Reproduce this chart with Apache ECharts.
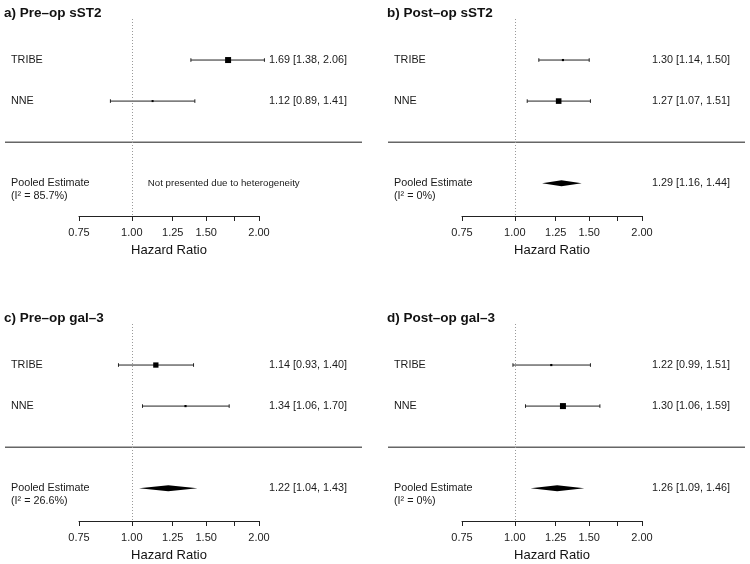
<!DOCTYPE html>
<html>
<head>
<meta charset="utf-8">
<script src="https://cdn.jsdelivr.net/npm/echarts@6/dist/echarts.min.js"></script>
<style>
html,body{margin:0;padding:0;background:#fff;}
#c{width:750px;height:564px;}
</style>
</head>
<body>
<div id="c"></div>
<script>
// ---- data ----
const panelTitles = ['a) Pre\u2013op sST2', 'b) Post\u2013op sST2', 'c) Pre\u2013op gal\u20133', 'd) Post\u2013op gal\u20133'];
const studies = ['TRIBE', 'NNE'];
const estA = [1.69, 1.12], lowA = [1.38, 0.89], highA = [2.06, 1.41], wA = [0.75, 0.25];
const estB = [1.30, 1.27], lowB = [1.14, 1.07], highB = [1.50, 1.51], wB = [0.27, 0.70];
const estC = [1.14, 1.34], lowC = [0.93, 1.06], highC = [1.40, 1.70], wC = [0.66, 0.27];
const estD = [1.22, 1.30], lowD = [0.99, 1.06], highD = [1.51, 1.59], wD = [0.27, 0.75];
const pooledEst = [null, 1.29, 1.22, 1.26];
const pooledLow = [null, 1.16, 1.04, 1.09];
const pooledHigh = [null, 1.44, 1.43, 1.46];
const i2Text = ['85.7%', '0%', '26.6%', '0%'];
const notPresentedText = 'Not presented due to heterogeneity';
const tickVals = [0.75, 1.00, 1.25, 1.50, 1.75, 2.00];
const tickLabelVals = [0.75, 1.00, 1.25, 1.50, 2.00];
const axisTitle = 'Hazard Ratio';

// ---- layout ----
const FONT = 'Helvetica, Arial, "Liberation Sans", sans-serif';
const ests = [estA, estB, estC, estD], lows = [lowA, lowB, lowC, lowD], highs = [highA, highB, highC, highD], ws = [wA, wB, wC, wD];
const gridLeft = [79, 462, 79, 462];
const gridTop = [19, 19, 324, 324];
const L = Math.log;
const f2 = v => v.toFixed(2);

const option = {
  animation: false,
  backgroundColor: '#fff',
  title: panelTitles.map((t, p) => ({
    text: t, left: gridLeft[p] - 75, top: gridTop[p] - 13, padding: 0,
    textStyle: {fontSize: 13.5, fontWeight: 'bold', color: '#111', fontFamily: FONT}
  })),
  grid: gridLeft.map((l, p) => ({left: l, top: gridTop[p], width: 180, height: 197})),
  xAxis: gridLeft.map((l, p) => ({
    gridIndex: p, type: 'value', min: L(0.75), max: L(2.0),
    splitLine: {show: false},
    axisLine: {show: true, onZero: false, lineStyle: {color: '#222', width: 1}},
    axisTick: {show: true, inside: false, length: 5, lineStyle: {color: '#222'}, customValues: tickVals.map(L)},
    axisLabel: {show: true, margin: 11, fontSize: 11, color: '#222', fontFamily: FONT,
      customValues: tickLabelVals.map(L), formatter: v => Math.exp(v).toFixed(2)},
    name: axisTitle, nameLocation: 'middle', nameGap: 28,
    nameTextStyle: {fontSize: 13, color: '#111', fontFamily: FONT}
  })),
  yAxis: gridLeft.map((l, p) => ({gridIndex: p, type: 'value', min: -1, max: 3.8, inverse: true, show: false})),
  series: gridLeft.map((l, p) => {
    const items = [];
    studies.forEach((s, i) => items.push({kind: 'study', i: i, value: [L(ests[p][i]), i]}));
    items.push({kind: 'sep', value: [0, 2]});
    items.push({kind: 'pooled', value: [pooledEst[p] == null ? 0 : L(pooledEst[p]), 3]});
    return {
      type: 'custom', xAxisIndex: p, yAxisIndex: p, clip: false,
      data: items.map(d => d.value),
      renderItem: function (params, api) {
        const d = items[params.dataIndex];
        const cs = params.coordSys;
        const row = api.value(1);
        const y = api.coord([0, row])[1];
        const txt = (text, x, yy, size) => ({type: 'text', style: {text: text, x: x, y: yy, fill: '#1a1a1a', fontSize: size || 10.8, fontFamily: FONT, align: 'left', verticalAlign: 'middle'}});
        if (d.kind === 'sep') {
          return {type: 'line', shape: {x1: cs.x - 74, y1: y, x2: cs.x + cs.width + 103, y2: y}, style: {stroke: '#666', lineWidth: 1.5}};
        }
        if (d.kind === 'study') {
          const i = d.i;
          const xl = api.coord([L(lows[p][i]), row])[0];
          const xh = api.coord([L(highs[p][i]), row])[0];
          const xe = api.coord([L(ests[p][i]), row])[0];
          const sz = Math.max(2, 8 * ws[p][i]);
          return {type: 'group', children: [
            {type: 'line', shape: {x1: xl, y1: y, x2: xh, y2: y}, style: {stroke: '#222', lineWidth: 1}},
            {type: 'line', shape: {x1: xl, y1: y - 1.8, x2: xl, y2: y + 1.8}, style: {stroke: '#222', lineWidth: 1}},
            {type: 'line', shape: {x1: xh, y1: y - 1.8, x2: xh, y2: y + 1.8}, style: {stroke: '#222', lineWidth: 1}},
            {type: 'rect', shape: {x: xe - sz / 2, y: y - sz / 2, width: sz, height: sz}, style: {fill: '#000'}},
            txt(studies[i], cs.x - 68, y),
            txt(f2(ests[p][i]) + ' [' + f2(lows[p][i]) + ', ' + f2(highs[p][i]) + ']', cs.x + cs.width + 10, y)
          ]};
        }
        // pooled
        const children = [
          txt('Pooled Estimate', cs.x - 68, y),
          txt('(I\u00b2 = ' + i2Text[p] + ')', cs.x - 68, y + 13)
        ];
        if (pooledEst[p] == null) {
          const x1 = api.coord([0, row])[0];
          children.push(txt(notPresentedText, x1 + 16, y, 9.7));
        } else {
          const xl = api.coord([L(pooledLow[p]), row])[0];
          const xh = api.coord([L(pooledHigh[p]), row])[0];
          const xe = api.coord([L(pooledEst[p]), row])[0];
          children.push({type: 'polygon', shape: {points: [[xl, y], [xe, y - 3], [xh, y], [xe, y + 3]]}, style: {fill: '#000'}});
          children.push(txt(f2(pooledEst[p]) + ' [' + f2(pooledLow[p]) + ', ' + f2(pooledHigh[p]) + ']', cs.x + cs.width + 10, y));
        }
        return {type: 'group', children: children};
      },
      markLine: {
        silent: true, symbol: 'none', label: {show: false}, animation: false,
        lineStyle: {type: [1, 2], color: '#9a9a9a', width: 1},
        data: [{xAxis: 0}]
      }
    };
  })
};
const chart = echarts.init(document.getElementById('c'), null, {renderer: 'canvas'});
chart.setOption(option);
</script>
</body>
</html>
